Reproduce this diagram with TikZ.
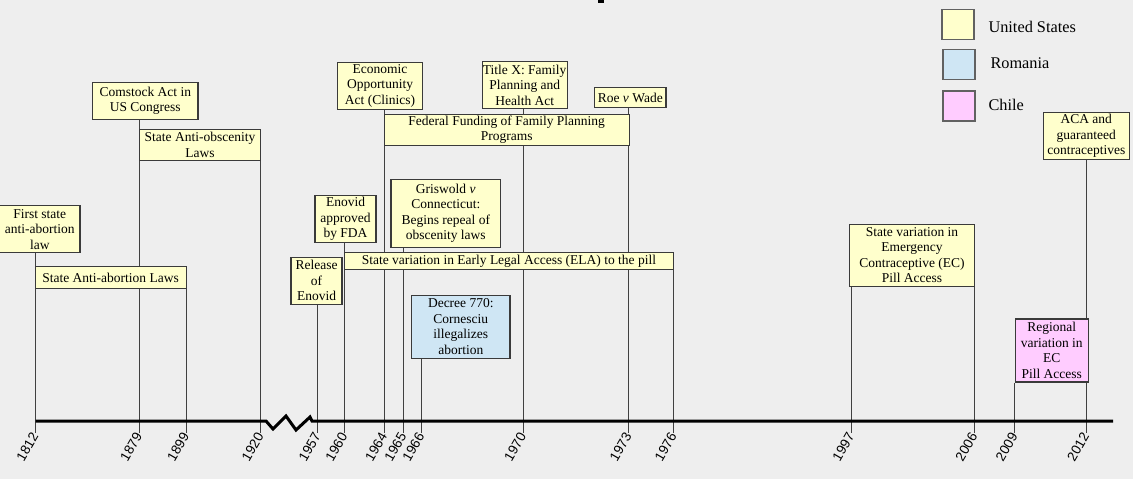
\documentclass[tikz,border=0pt]{standalone}
\usepackage{fontspec}
\setmainfont{Liberation Serif}
\newfontfamily\yearfont{Liberation Sans}
\usetikzlibrary{backgrounds}
\definecolor{bggray}{HTML}{EEEEEE}
\definecolor{usfill}{HTML}{FFFFCC}
\definecolor{rofill}{HTML}{CFE6F4}
\definecolor{clfill}{HTML}{FFCCFF}
\definecolor{edgegray}{HTML}{3A3A3A}
\begin{document}
\begin{tikzpicture}[x=1pt,y=-1pt,
    evbox/.style={draw=edgegray,line width=1.1pt,inner sep=0pt,align=center,
      font=\fontsize{13.5}{15.5}\selectfont},
    usbox/.style={evbox,fill=usfill},
    robox/.style={evbox,fill=rofill},
    clbox/.style={evbox,fill=clfill},
    keybox/.style={draw=edgegray!80,line width=1.1pt,minimum width=32pt,minimum height=30pt,inner sep=0pt},
    keytext/.style={anchor=west,font=\fontsize{16.3}{19}\selectfont},
    stem/.style={draw=black!75,line width=0.9pt},
    yearlbl/.style={font=\yearfont\fontsize{13.5}{15}\selectfont,rotate=60,anchor=east,inner sep=1pt}]
      \useasboundingbox (0,0) rectangle (1133,479);

      \foreach \yr/\xx in {1812/35.5, 1879/139.3, 1899/186.3, 1920/260.6, 1957/317.8, 1960/344.5,
          1964/384.3, 1965/403.5, 1966/421.5, 1970/523.3, 1973/628.7, 1976/673.6,
          1997/851.5, 2006/974.4, 2009/1014.8, 2012/1086.2} {
        \coordinate (a\yr) at (\xx,421);
        \coordinate (t\yr) at (\xx,433);
        \node[yearlbl] at (t\yr) {\yr};
      }
      \coordinate (axend) at (1113,421);

      \node[usbox,minimum width=80.5pt,minimum height=47pt] (first) at (39.75,229.2) {First state\\anti-abortion\\law};
      \node[usbox,minimum width=105.3pt,minimum height=36.6pt] (comstock) at (145.3,101) {Comstock Act in\\US Congress};
      \node[usbox,minimum width=121.4pt,minimum height=30.7pt] (obscen) at (200,144.7) {State Anti-obscenity\\Laws};
      \node[usbox,minimum width=151pt,minimum height=22pt] (abort) at (110.6,277.7) {State Anti-abortion Laws};
      \node[usbox,minimum width=51pt,minimum height=47pt] (release) at (316.5,280.8) {Release\\of\\Enovid};
      \node[usbox,minimum width=61pt,minimum height=47pt] (fda) at (345.5,219.2) {Enovid\\approved\\by FDA};
      \node[usbox,minimum width=85.4pt,minimum height=46.7pt] (econ) at (380,85.7) {Economic\\Opportunity\\Act (Clinics)};
      \node[usbox,minimum width=85.3pt,minimum height=46.6pt] (titlex) at (524.7,85) {Title X: Family\\Planning and\\Health Act};
      \node[usbox,minimum width=71.3pt,minimum height=20.4pt] (roe) at (630.3,97.5) {Roe \textit{v} Wade};
      \node[usbox,minimum width=244.7pt,minimum height=30.7pt] (fed) at (506.7,129.7) {Federal Funding of Family Planning\\Programs};
      \node[usbox,minimum width=109.7pt,minimum height=68.4pt] (griswold) at (445.8,213.5) {Griswold \textit{v}\\Connecticut:\\Begins repeal of\\obscenity laws};
      \node[usbox,minimum width=329pt,minimum height=17pt] (ela) at (508.9,260.8) {State variation in Early Legal Access (ELA) to the pill};
      \node[robox,minimum width=98.3pt,minimum height=63pt] (decree) at (460.8,326.8) {Decree 770:\\Cornesciu\\illegalizes\\abortion};
      \node[usbox,minimum width=124.6pt,minimum height=62.3pt] (ecstate) at (912,255.2) {State variation in\\Emergency\\Contraceptive (EC)\\Pill Access};
      \node[clbox,minimum width=73.3pt,minimum height=63pt] (regional) at (1051.7,350.5) {Regional\\variation in\\EC\\ Pill Access};
      \node[usbox,minimum width=86pt,minimum height=46.6pt] (aca) at (1086.3,136) {ACA and\\guaranteed\\contraceptives};

      \node[keybox,fill=usfill] (keyus) at (958,24.2) {};
      \node[keybox,fill=rofill] (keyro) at (959,64.3) {};
      \node[keybox,fill=clfill] (keycl) at (959,106) {};
      \node[keytext] (lblus) at (985,27) {United States};
      \node[keytext] (lblro) at (987,63) {Romania};
      \node[keytext] (lblcl) at (985,105) {Chile};

      \fill (598,0) rectangle (604,2.5);

      \begin{pgfonlayer}{background}
        \fill[bggray] (0,0) rectangle (1133,479);
        \draw[stem] (first.south -| t1812) -- (t1812);
        \draw[stem] (comstock.south -| t1879) -- (t1879);
        \draw[stem] (abort.south -| t1899) -- (t1899);
        \draw[stem] (obscen.south -| t1920) -- (t1920);
        \draw[stem] (release.south -| t1957) -- (t1957);
        \draw[stem] (fda.south -| t1960) -- (t1960);
        \draw[stem] (econ.south -| t1964) -- (t1964);
        \draw[stem] (griswold.south -| t1965) -- (t1965);
        \draw[stem] (decree.south -| t1966) -- (t1966);
        \draw[stem] (titlex.south -| t1970) -- (t1970);
        \draw[stem] (roe.south -| t1973) -- (t1973);
        \draw[stem] (ela.south -| t1976) -- (t1976);
        \draw[stem] (ecstate.south -| t1997) -- (t1997);
        \draw[stem] (ecstate.south -| t2006) -- (t2006);
        \draw[stem] (regional.south -| t2009) -- (t2009);
        \draw[stem] (aca.south -| t2012) -- (t2012);
      \end{pgfonlayer}

      \draw[line width=3pt,line join=miter] (a1812) -- (266,421) -- (273,429) -- (286,416) -- (296,430)
        -- (310,417) -- (312,421) -- (axend);
    \end{tikzpicture}
\end{document}
